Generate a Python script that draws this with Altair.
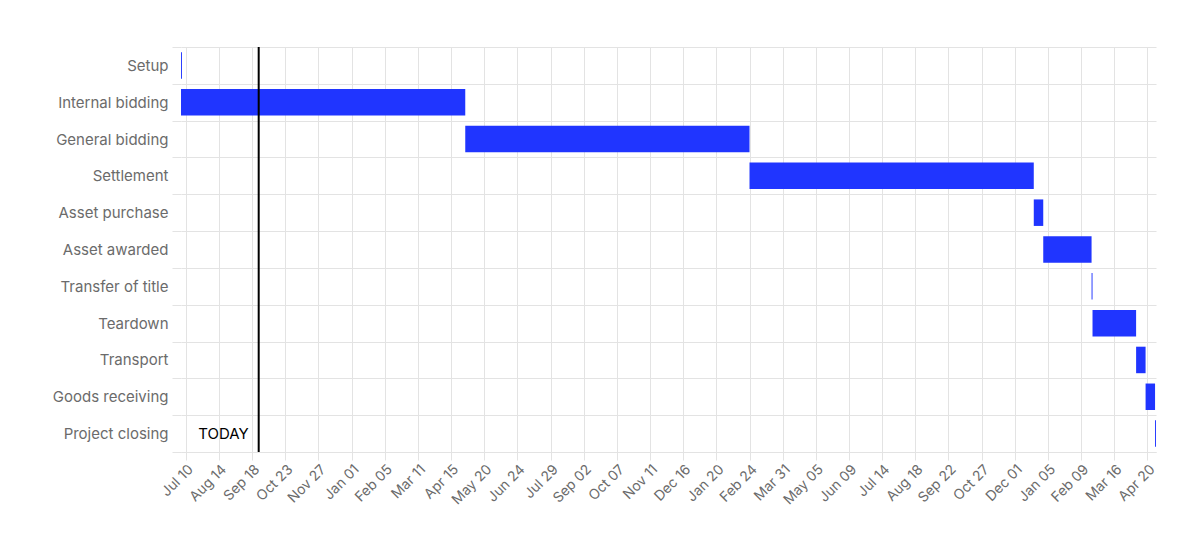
import altair as alt
import pandas as pd

tasks = ["Setup", "Internal bidding", "General bidding", "Settlement", "Asset purchase",
         "Asset awarded", "Transfer of title", "Teardown", "Transport", "Goods receiving",
         "Project closing"]
starts = ["2023-07-05", "2023-07-05", "2024-04-30", "2025-02-24", "2025-12-21",
          "2025-12-31", "2026-02-20", "2026-02-21", "2026-04-08", "2026-04-18", "2026-04-28"]
ends = ["2023-07-06", "2024-04-30", "2025-02-24", "2025-12-21", "2025-12-31",
        "2026-02-20", "2026-02-21", "2026-04-08", "2026-04-18", "2026-04-28", "2026-04-29"]

tick_dates = ["2023-07-10", "2023-08-14", "2023-09-18", "2023-10-23", "2023-11-27",
              "2024-01-01", "2024-02-05", "2024-03-11", "2024-04-15", "2024-05-20",
              "2024-06-24", "2024-07-29", "2024-09-02", "2024-10-07", "2024-11-11",
              "2024-12-16", "2025-01-20", "2025-02-24", "2025-03-31", "2025-05-05",
              "2025-06-09", "2025-07-14", "2025-08-18", "2025-09-22", "2025-10-27",
              "2025-12-01", "2026-01-05", "2026-02-09", "2026-03-16", "2026-04-20"]

domain_dates = ["2023-07-05", "2026-04-29"]
today_date = "2023-09-25"
today_label = "TODAY"


def ms(s):
    return int(pd.Timestamp(s, tz="UTC").value // 10**6)


df = pd.DataFrame({"task": tasks, "start": starts, "end": ends})
today_df = pd.DataFrame({"date": [today_date], "task": ["Project closing"], "label": [today_label]})

font = "Inter"
grid_color = "#e3e3e3"
label_color = "#6b6b6b"

x_scale = alt.Scale(type="utc", domain=[ms(d) for d in domain_dates], nice=False)
y_scale = alt.Scale(domain=tasks, paddingInner=0, paddingOuter=0)

x_axis = alt.Axis(
    title=None, values=[ms(d) for d in tick_dates],
    labelExpr="utcFormat(datum.value, '%b %d')",
    labelAngle=-45, labelFontSize=14, labelColor=label_color, labelFont=font,
    labelOverlap=False,
    grid=True, gridColor=grid_color, ticks=True, tickSize=8, tickColor=grid_color,
    domain=True, domainColor=grid_color, labelPadding=2,
)
y_axis = alt.Axis(
    title=None, tickBand="extent", grid=True, gridColor=grid_color, ticks=True,
    tickSize=9, tickColor=grid_color, domain=False, labelFontSize=15,
    labelColor=label_color, labelFont=font, labelPadding=4,
)

bars = alt.Chart(df).mark_bar(
    height=alt.RelativeBandSize(0.72), color="#2035ff"
).encode(
    x=alt.X("start:T", scale=x_scale, axis=x_axis),
    x2="end:T",
    y=alt.Y("task:N", scale=y_scale, axis=y_axis, sort=tasks),
)

rule = alt.Chart(today_df).mark_rule(color="black", strokeWidth=2).encode(
    x=alt.X("date:T", scale=x_scale, axis=x_axis),
)

text = alt.Chart(today_df).mark_text(
    align="right", baseline="middle", dx=-10, fontSize=15, color="black", font=font
).encode(
    x=alt.X("date:T", scale=x_scale, axis=x_axis),
    y=alt.Y("task:N", scale=y_scale, axis=y_axis, sort=tasks),
    text="label:N",
)

chart = alt.layer(bars, rule, text).properties(
    width=975, height=405,
    padding={"left": 173, "top": 39, "right": 20, "bottom": 60},
    autosize=alt.AutoSizeParams(type="none"),
    background="white",
).configure_view(stroke=None)

chart.save("out.html", embed_options={"renderer": "svg", "actions": False})
